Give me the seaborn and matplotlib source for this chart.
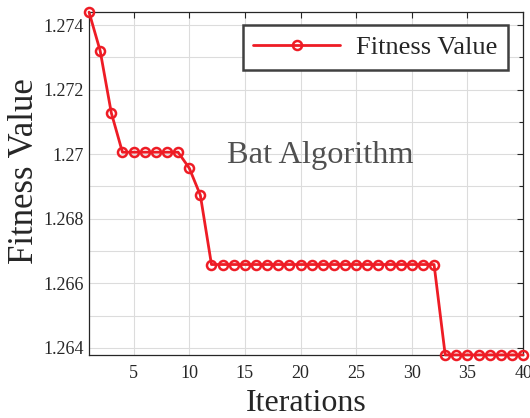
import numpy as np
import pandas as pd
import seaborn as sns
import matplotlib.pyplot as plt
from matplotlib.ticker import MultipleLocator

# fitness value per iteration
iterations = list(range(1, 41))
fitness = ([1.27440, 1.27320, 1.27128]
           + [1.27006] * 6
           + [1.26957, 1.26873]
           + [1.26658] * 21
           + [1.26378] * 8)

data = pd.DataFrame({'Iterations': iterations, 'Fitness Value': fitness})

sns.set_style('whitegrid')
plt.rcParams['font.family'] = ['Liberation Serif', 'DejaVu Serif']

red = '#ee1c25'
fig = plt.figure(figsize=(5.3, 4.18), dpi=100)
ax = fig.add_axes([0.168, 0.151, 0.819, 0.820])

sns.lineplot(data=data, x='Iterations', y='Fitness Value', ax=ax,
             color=red, linewidth=2, marker='o', markersize=6.5,
             markerfacecolor='none', markeredgecolor=red, markeredgewidth=1.8,
             label='Fitness Value', clip_on=False, zorder=5)

ax.set_xlim(1, 40)
ax.set_ylim(min(fitness), max(fitness))
ax.xaxis.set_major_locator(MultipleLocator(5))
ax.yaxis.set_minor_locator(MultipleLocator(0.001))
ax.set_yticks([1.264, 1.266, 1.268, 1.27, 1.272, 1.274])
ax.set_yticklabels(['1.264', '1.266', '1.268', '1.27', '1.272', '1.274'])

ax.grid(True, which='major', color='#dcdcdc', linewidth=0.8)
ax.grid(True, which='minor', axis='y', color='#dcdcdc', linewidth=0.8)
ax.tick_params(which='both', direction='in', top=True, right=True,
               labelsize=13, colors='#262626', length=4, width=0.8)
ax.tick_params(axis='x', pad=7)
ax.tick_params(which='minor', length=3)
for s in ax.spines.values():
    s.set_color('#262626')
    s.set_linewidth(0.9)

ax.set_xlabel('Iterations', fontsize=23, color='#262626', labelpad=5)
ax.set_ylabel('Fitness Value', fontsize=25, color='#262626')
ax.yaxis.set_label_coords(-0.11, 0.536)

ax.text(0.533, 0.583, 'Bat Algorithm', transform=ax.transAxes,
        fontsize=23.3, color='#505050', ha='center', va='center')

leg = ax.legend(loc='upper right', bbox_to_anchor=(0.965, 0.962), fontsize=19,
                fancybox=False, framealpha=1, edgecolor='#404040',
                handlelength=3.3, borderpad=0.4, handletextpad=0.6,
                borderaxespad=0)
leg.get_frame().set_linewidth(1.8)
for t in leg.get_texts():
    t.set_color('#262626')

plt.savefig('out.png', dpi=100)
